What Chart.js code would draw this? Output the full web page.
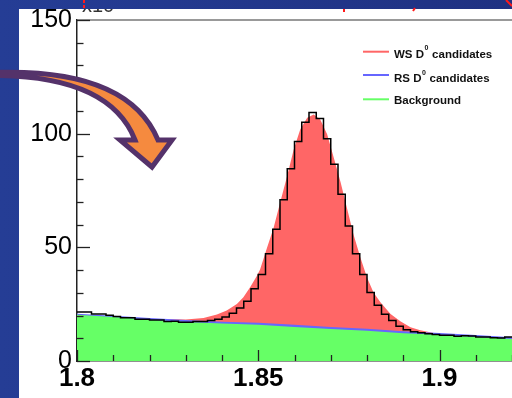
<!DOCTYPE html>
<html>
<head>
<meta charset="utf-8">
<script src="https://cdn.jsdelivr.net/npm/chart.js@4.4.1/dist/chart.umd.min.js"></script>
<style>
html,body{margin:0;padding:0;overflow:hidden;background:#223a8e;}
canvas{display:block;}
</style>
</head>
<body>
<canvas id="c" width="512" height="398"></canvas>
<script>
// ---------- data ----------
const xTickValues = [1.8, 1.85, 1.9];
const xTickLabels = ['1.8', '1.85', '1.9'];
const yTickValues = [0, 50, 100, 150];
const yTickLabels = ['0', '50', '100', '150'];

const seriesNames = ['WS D⁰ candidates', 'RS D⁰ candidates', 'Background'];
const seriesColors = ['#ff6666', '#6666ff', '#66ff66'];

// data histogram (bin width 0.002 starting at 1.800)
const histLow = 1.8;
const histBinWidth = 0.002;
const dataCounts = [21.6,21.6,20.7,20.7,20.1,19.6,19.0,19.0,18.4,18.4,
                    18.0,18.0,17.4,17.5,17.1,17.1,17.4,17.4,17.8,18.4,
                    19.3,21.0,23.3,26.3,31.8,38.1,47.2,58.0,70.9,84.6,
                    96.5,105.0,109.3,106.7,97.8,86.5,73.3,59.4,47.2,38.1,
                    30.1,24.5,20.6,17.8,15.3,13.8,12.9,12.4,12.0,11.7,
                    11.3,11.3,10.9,11.1,11.0,10.6,10.6,10.2,10.1,10.6];

// background and RS (stacked on background) curves
const curveX      = [1.80,1.81,1.82,1.83,1.84,1.85,1.86,1.87,1.88,1.89,1.90,1.91,1.92];
const backgroundY = [20.3,19.3,18.2,17.2,16.5,15.9,15.0,14.1,13.3,12.2,11.5,10.6,9.7];
const rsTotalY    = [20.8,19.9,18.9,18.0,17.3,16.8,15.9,15.0,14.2,13.1,12.3,11.4,10.5];

// WS signal curve (total height of the stack)
const wsX      = [1.8230,1.8300,1.8349,1.8386,1.8413,1.8441,1.8459,1.8478,1.8496,1.8505,
                  1.8524,1.8542,1.8561,1.8579,1.8598,1.8616,1.8635,1.8653,1.8671,1.8690,
                  1.8708,1.8727,1.8745,1.8763,1.8782,1.8800,1.8818,1.8837,1.8865,1.8892,
                  1.8920,1.8947,1.8994];
const wsTotalY = [18.5,18.3,18.9,20.4,22.2,25.1,28.0,32.6,37.4,40.3,
                  49.7,58.4,70.0,80.9,93.2,101.9,107.0,108.4,106.2,99.7,
                  89.6,78.7,67.1,55.5,45.4,36.7,30.1,25.8,20.7,17.5,
                  14.9,13.5,12.0];

// ---------- build datasets ----------
const histPoints = dataCounts.map((v, i) => ({x: histLow + i * histBinWidth, y: v}));
histPoints.push({x: histLow + dataCounts.length * histBinWidth, y: dataCounts[dataCounts.length - 1]});
const bgPoints = curveX.map((x, i) => ({x, y: backgroundY[i]}));
const rsPoints = curveX.map((x, i) => ({x, y: rsTotalY[i]}));
const wsPoints = wsX.map((x, i) => ({x, y: wsTotalY[i]}));

const FONT = '"Liberation Sans", Arial, Helvetica, sans-serif';

function drawArrow(ctx) {
  ctx.save();
  ctx.beginPath();
  ctx.moveTo(-6, 72.5);
  ctx.quadraticCurveTo(128, 68, 158, 140);
  ctx.lineTo(172, 140);
  ctx.lineTo(152, 167);
  ctx.lineTo(120, 140);
  ctx.lineTo(135, 140);
  ctx.quadraticCurveTo(110, 76, -6, 75.5);
  ctx.closePath();
  ctx.fillStyle = '#f58a3f';
  ctx.fill();
  ctx.lineWidth = 5;
  ctx.lineJoin = 'miter';
  ctx.strokeStyle = '#54326a';
  ctx.stroke();
  ctx.restore();
}

function blueGradient(ctx) {
  const g = ctx.createLinearGradient(0, 0, 512, 0);
  g.addColorStop(0, '#253d95');
  g.addColorStop(1, '#1f3182');
  return g;
}

const decorPlugin = {
  id: 'decor',
  beforeDraw(chart) {
    const ctx = chart.ctx;
    ctx.save();
    ctx.fillStyle = blueGradient(ctx);
    ctx.fillRect(0, 0, chart.width, chart.height);
    ctx.fillStyle = '#ffffff';
    ctx.fillRect(19, 9, chart.width - 19, chart.height - 9);
    // cut-off title fragment at the top
    ctx.fillStyle = '#333';
    ctx.font = '20px ' + FONT;
    ctx.fillText('x10', 82, 12);
    ctx.restore();
  },
  afterDraw(chart) {
    const ctx = chart.ctx;
    const xs = chart.scales.x, ys = chart.scales.y;
    const area = chart.chartArea;
    ctx.save();
    // top frame line
    ctx.strokeStyle = '#777';
    ctx.lineWidth = 1.6;
    ctx.beginPath();
    ctx.moveTo(area.left, area.top);
    ctx.lineTo(chart.width, area.top);
    ctx.stroke();
    // inner ticks (ROOT style)
    ctx.strokeStyle = '#222';
    ctx.lineWidth = 1.3;
    const yMinorStep = 10, xMinorStep = 0.01;
    for (let k = 0; k * yMinorStep <= ys.max + 1e-9; k++) {
      const v = k * yMinorStep;
      const p = Math.round(ys.getPixelForValue(v)) + 0.5;
      const len = (v % 50 === 0) ? 13 : 6.5;
      ctx.beginPath();
      ctx.moveTo(area.left, p);
      ctx.lineTo(area.left + len, p);
      ctx.stroke();
    }
    for (let k = 0; xs.min + k * xMinorStep <= xs.max + 1e-9; k++) {
      const v = xs.min + k * xMinorStep;
      const p = Math.round(xs.getPixelForValue(v)) + 0.5;
      const len = (k % 5 === 0) ? 11 : 6;
      ctx.beginPath();
      ctx.moveTo(p, area.bottom);
      ctx.lineTo(p, area.bottom - len);
      ctx.stroke();
    }
    // legend
    const rowY = [51.7, 75, 99.3];
    const baseY = [57.5, 82, 103.5];
    for (let i = 0; i < seriesNames.length; i++) {
      ctx.strokeStyle = seriesColors[i];
      ctx.lineWidth = 2;
      ctx.beginPath();
      ctx.moveTo(363, rowY[i]);
      ctx.lineTo(389, rowY[i]);
      ctx.stroke();
      ctx.fillStyle = '#111';
      ctx.textBaseline = 'alphabetic';
      ctx.textAlign = 'left';
      const parts = seriesNames[i].split('⁰');
      let x = 394;
      ctx.font = 'bold 11.5px ' + FONT;
      ctx.fillText(parts[0], x, baseY[i]);
      x += ctx.measureText(parts[0]).width;
      if (parts.length > 1) {
        ctx.font = 'bold 7px ' + FONT;
        ctx.fillText('0', x + 0.5, baseY[i] - 7.5);
        x += ctx.measureText('0').width + 1;
        ctx.font = 'bold 11.5px ' + FONT;
        ctx.fillText(parts[1], x, baseY[i]);
      }
    }
    // blue top strip (clips labels)
    ctx.fillStyle = blueGradient(ctx);
    ctx.fillRect(0, 0, chart.width, 9);
    // red fragments
    ctx.strokeStyle = '#ff1a1a';
    ctx.lineWidth = 2;
    ctx.setLineDash([3, 2]);
    ctx.beginPath(); ctx.moveTo(84, 0); ctx.lineTo(84, 10); ctx.stroke();
    ctx.setLineDash([]);
    ctx.beginPath(); ctx.moveTo(344, 9); ctx.lineTo(344, 12); ctx.stroke();
    ctx.beginPath(); ctx.moveTo(415, 8); ctx.lineTo(413, 11); ctx.stroke();
    ctx.beginPath(); ctx.moveTo(506, 0); ctx.lineTo(512, 6); ctx.stroke();
    ctx.restore();
    drawArrow(ctx);
  }
};

new Chart(document.getElementById('c'), {
  type: 'line',
  data: {
    datasets: [
      { label: 'Data', data: histPoints, stepped: 'before', borderColor: '#000', borderWidth: 1.5,
        pointRadius: 0, fill: false },
      { label: seriesNames[2], data: bgPoints, borderWidth: 0, backgroundColor: seriesColors[2],
        pointRadius: 0, fill: 'origin' },
      { label: seriesNames[1], data: rsPoints, borderWidth: 0, backgroundColor: seriesColors[1],
        pointRadius: 0, fill: 'origin' },
      { label: seriesNames[0], data: wsPoints, borderWidth: 0, backgroundColor: seriesColors[0],
        pointRadius: 0, fill: 'origin' }
    ]
  },
  options: {
    responsive: false,
    devicePixelRatio: 1,
    animation: false,
    layout: { padding: { top: 15, right: 0, bottom: 0, left: 0 } },
    plugins: { legend: { display: false }, tooltip: { enabled: false } },
    scales: {
      x: {
        type: 'linear', min: 1.8, max: 1.92, z: 1,
        afterBuildTicks: s => { s.ticks = xTickValues.map(v => ({value: v})); },
        afterFit: s => { s.height = 37; },
        grid: { display: false, drawTicks: false },
        border: { display: true, color: '#222', width: 1.5 },
        ticks: { autoSkip: false, maxRotation: 0, padding: 2, color: '#000',
                 font: { family: FONT, size: 26, weight: 'bold' },
                 callback: (v, i) => xTickLabels[i] }
      },
      y: {
        type: 'linear', min: 0, max: 150, z: 1,
        afterBuildTicks: s => { s.ticks = yTickValues.map(v => ({value: v})); },
        afterFit: s => { s.width = 77; },
        grid: { display: false, drawTicks: false },
        border: { display: true, color: '#222', width: 1.5 },
        ticks: { autoSkip: false, padding: 5, color: '#000',
                 font: { family: FONT, size: 25 },
                 callback: (v, i) => yTickLabels[i] }
      }
    }
  },
  plugins: [decorPlugin]
});
</script>
</body>
</html>
